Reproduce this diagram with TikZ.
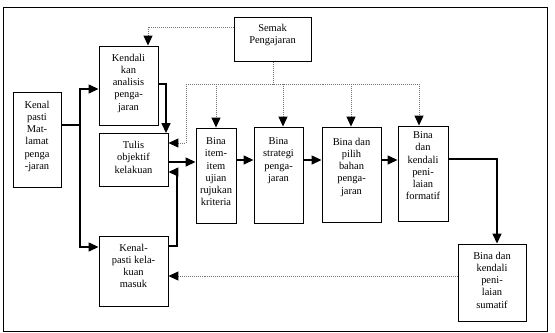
\documentclass[tikz,border=0pt]{standalone}
\usepackage{fontspec}
\setmainfont{Liberation Serif}
\usetikzlibrary{arrows.meta}
\begin{document}
\begin{tikzpicture}[x=1bp,y=-1bp,
  box/.style={draw,line width=0.9pt,inner sep=0pt},
  txt/.style={anchor=north,inner sep=0pt,align=center,font=\fontsize{10.5}{12.3}\selectfont},
  conn/.style={line width=1.4pt},
  arr/.style={-{Triangle[length=10bp,width=9bp,black]}},
  dot/.style={densely dotted,line width=1pt,draw=black!55}]
\useasboundingbox (0,0) rectangle (555,332);
\draw[line width=1pt] (3,7) rectangle (547,331);

% boxes
\node[box,minimum width=48bp,minimum height=95bp] (kp) at (37,139.5) {};
\node[txt,yshift=-9bp] (kpt) at (kp.north) {Kenal\\pasti\\Mat-\\lamat\\penga\\-jaran};

\node[box,minimum width=59bp,minimum height=79bp] (ka) at (128.5,85.5) {};
\node[txt,yshift=-8bp] (kat) at (ka.north) {Kendali\\kan\\analisis\\penga-\\jaran};

\node[box,minimum width=69bp,minimum height=53bp] (tu) at (133.5,160) {};
\node[txt,yshift=-8bp] (tut) at (tu.north) {Tulis\\objektif\\kelakuan};

\node[box,minimum width=69bp,minimum height=70bp] (km) at (133.5,271) {};
\node[txt,yshift=-8bp] (kmt) at (km.north) {Kenal-\\pasti kela-\\kuan\\masuk};

\node[box,minimum width=77bp,minimum height=44bp] (sp) at (272.5,39.5) {};
\node[txt,yshift=-7bp] (spt) at (sp.north) {Semak\\Pengajaran};

\node[box,minimum width=40bp,minimum height=95bp] (bi) at (216,175.5) {};
\node[txt,yshift=-10bp] (bit) at (bi.north) {Bina\\item-\\item\\ujian\\rujukan\\kriteria};

\node[box,minimum width=49bp,minimum height=96bp] (st) at (278.5,175) {};
\node[txt,yshift=-11bp] (stt) at (st.north) {Bina\\strategi\\penga-\\jaran};

\node[box,minimum width=59bp,minimum height=95bp] (pi) at (351.5,174.5) {};
\node[txt,yshift=-11bp] (pit) at (pi.north) {Bina dan\\pilih\\bahan\\penga-\\jaran};

\node[box,minimum width=50bp,minimum height=95bp] (fo) at (423,173.5) {};
\node[txt,yshift=-6bp] (fot) at (fo.north) {Bina\\dan\\kendali\\peni-\\laian\\formatif};

\node[box,minimum width=68bp,minimum height=77bp] (su) at (492,282.5) {};
\node[txt,yshift=-8bp] (sut) at (su.north) {Bina dan\\kendali\\peni-\\laian\\sumatif};

% solid connectors
\coordinate (j1) at (80,125);
\coordinate (ya) at (0,89);
\coordinate (yb) at (0,247);
\draw[conn] (j1 -| kp.east) -- (j1);
\draw[conn,arr] (j1) |- (ya -| ka.west);
\draw[conn,arr] (j1) |- (yb -| km.west);

\coordinate (c2) at (166,84);
\draw[conn,arr] (c2 -| ka.east) -- (c2) -- (c2 |- tu.north);

\coordinate (y3) at (0,162);
\draw[conn,arr] (y3 -| tu.east) -- (y3 -| bi.west);

\coordinate (c3) at (177,246);
\coordinate (y4) at (0,172);
\draw[conn,arr] (c3 -| km.east) -- (c3) |- (y4 -| tu.east);

\coordinate (y5) at (0,160);
\draw[conn,arr] (y5 -| bi.east) -- (y5 -| st.west);
\draw[conn,arr] (y5 -| st.east) -- (y5 -| pi.west);
\draw[conn,arr] (y5 -| pi.east) -- (y5 -| fo.west);

\coordinate (c6) at (497,159);
\draw[conn,arr] (c6 -| fo.east) -- (c6) -- (c6 |- su.north);

% dotted connectors
\coordinate (c7) at (148,27);
\draw[dot,arr] (c7 -| sp.west) -- (c7) -- (c7 |- ka.north);

\coordinate (bus) at (273,84);
\coordinate (bl) at (186,84);
\coordinate (br) at (419,84);
\coordinate (y8) at (0,143);
\draw[dot] (sp.south -| bus) -- (bus);
\draw[dot] (bl) -- (br);
\draw[dot,arr] (bl) |- (y8 -| tu.east);
\draw[dot,arr] (216,84) -- (216,84 |- bi.north);
\draw[dot,arr] (283,84) -- (283,84 |- st.north);
\draw[dot,arr] (351,84) -- (351,84 |- pi.north);
\draw[dot,arr] (br) -- (br |- fo.north);

\coordinate (y9) at (0,276);
\draw[dot,arr] (y9 -| su.west) -- (y9 -| km.east);
\end{tikzpicture}
\end{document}
